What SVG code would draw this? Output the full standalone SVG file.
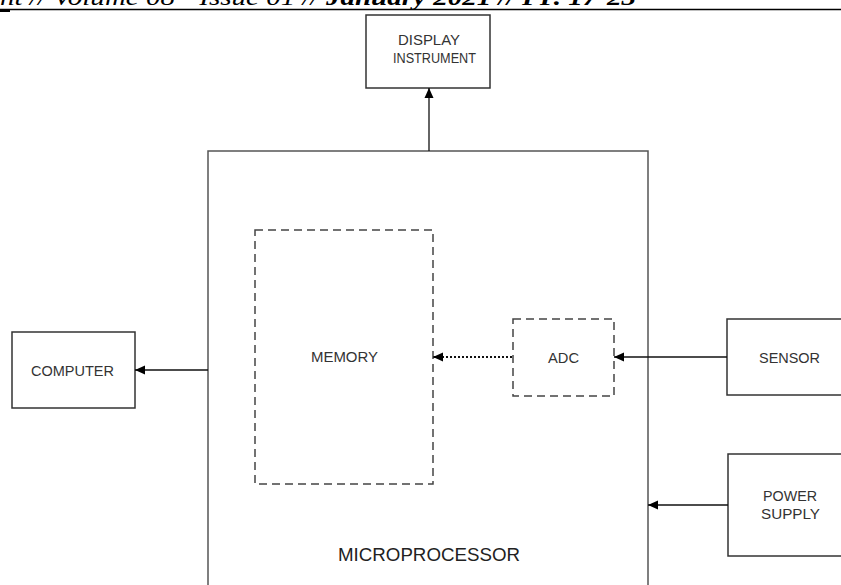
<svg xmlns="http://www.w3.org/2000/svg" width="841" height="585" viewBox="0 0 841 585">
<defs>
<style>
.box{fill:#fff;stroke:#333;stroke-width:1.5}
.dash{fill:none;stroke:#444;stroke-width:1.5;stroke-dasharray:8 5}
.conn{fill:none;stroke:#111;stroke-width:1.3}
.dot{fill:none;stroke:#111;stroke-width:1.8;stroke-dasharray:2 2}
.lbl{font-family:"Liberation Sans",Arial,sans-serif;font-size:14px;fill:#333}
.big{font-family:"Liberation Sans",Arial,sans-serif;font-size:18.5px;fill:#222}
.hdr{font-family:"Liberation Serif","Times New Roman",serif;font-style:italic;font-size:24px;fill:#000}
</style>
<marker id="ah" viewBox="0 0 10 10" refX="10" refY="5" markerWidth="10" markerHeight="10" markerUnits="userSpaceOnUse" orient="auto">
<path d="M0,0.5 L10,5 L0,9.5 Z" fill="#000"/>
</marker>
</defs>
<rect width="841" height="585" fill="#fff"/>
<g id="header">
<text class="hdr" x="0" y="5" textLength="636" lengthAdjust="spacingAndGlyphs">nt // Volume 08 - Issue 01 // <tspan font-weight="bold">January 2021 // PP. 17-23</tspan></text>
<line x1="0" y1="9.5" x2="841" y2="9.5" stroke="#000" stroke-width="1.3"/>
<rect x="0" y="10" width="10" height="2" fill="#000"/>
</g>
<g id="microprocessor">
<rect x="208" y="151" width="440" height="450" fill="#fff" stroke="#555" stroke-width="1.5"/>
<text class="big" x="338" y="561" textLength="182" lengthAdjust="spacingAndGlyphs">MICROPROCESSOR</text>
</g>
<g id="memory">
<rect class="dash" x="255" y="230" width="178" height="254"/>
<text class="lbl" x="311" y="362" textLength="67" lengthAdjust="spacingAndGlyphs">MEMORY</text>
</g>
<g id="adc">
<rect class="dash" x="513" y="319" width="101" height="77"/>
<text class="lbl" x="548" y="363" textLength="31" lengthAdjust="spacingAndGlyphs">ADC</text>
</g>
<g id="display">
<rect class="box" x="366" y="15" width="124" height="73"/>
<text class="lbl" x="398" y="45" textLength="62" lengthAdjust="spacingAndGlyphs">DISPLAY</text>
<text class="lbl" x="393" y="63" textLength="83" lengthAdjust="spacingAndGlyphs">INSTRUMENT</text>
</g>
<g id="computer">
<rect class="box" x="12" y="332" width="123" height="76"/>
<text class="lbl" x="31" y="376" textLength="83" lengthAdjust="spacingAndGlyphs">COMPUTER</text>
</g>
<g id="sensor">
<rect class="box" x="727" y="319" width="130" height="76"/>
<text class="lbl" x="759" y="363" textLength="61" lengthAdjust="spacingAndGlyphs">SENSOR</text>
</g>
<g id="power-supply">
<rect class="box" x="728" y="454" width="130" height="102"/>
<text class="lbl" x="763" y="501" textLength="54" lengthAdjust="spacingAndGlyphs">POWER</text>
<text class="lbl" x="761" y="519" textLength="59" lengthAdjust="spacingAndGlyphs">SUPPLY</text>
</g>
<g id="connectors">
<line class="conn" x1="429" y1="151" x2="429" y2="88" marker-end="url(#ah)"/>
<line class="conn" x1="208" y1="370" x2="135" y2="370" marker-end="url(#ah)"/>
<line class="dot" x1="512" y1="357" x2="434" y2="357"/>
<line class="conn" x1="442" y1="357" x2="433" y2="357" marker-end="url(#ah)"/>
<line class="conn" x1="727" y1="357" x2="614" y2="357" marker-end="url(#ah)"/>
<line class="conn" x1="728" y1="505" x2="648" y2="505" marker-end="url(#ah)"/>
</g>
</svg>
